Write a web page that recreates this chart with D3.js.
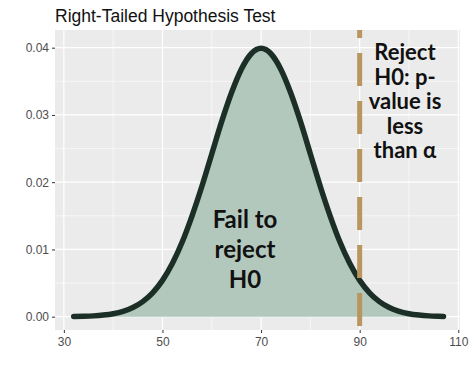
<!DOCTYPE html>
<html><head><meta charset="utf-8">
<script src="https://cdn.jsdelivr.net/npm/d3@7"></script>
<style>body{margin:0;background:#fff}svg{display:block}</style>
</head><body>
<script>
const xs = [32,34,36,38,40,42,44,46,48,50,52,54,56,58,60,62,64,66,68,70,72,74,76,78,80,82,84,86,88,90,92,94,96,98,100,102,104,106,107];
const dens = [0.00003,0.00006,0.00012,0.00024,0.00044,0.00079,0.00136,0.00224,0.00355,0.0054,0.0079,0.0111,0.0150,0.0194,0.0242,0.0290,0.0333,0.0368,0.0391,0.0399,0.0391,0.0368,0.0333,0.0290,0.0242,0.0194,0.0150,0.0111,0.0079,0.0054,0.00355,0.00224,0.00136,0.00079,0.00044,0.00024,0.00012,0.00006,0.00004];
const xTicks = [30,50,70,90,110];
const yTicks = [0,0.01,0.02,0.03,0.04];
const critical = 90;
const title = "Right-Tailed Hypothesis Test";
const leftLabel = ["Fail to","reject","H0"];
const rightLabel = ["Reject","H0: p-","value is","less","than α"];

const W=474,H=374, L=55, R=460, T=30, B=330;
const svg = d3.select("body").append("svg").attr("width",W).attr("height",H);
const x = d3.scaleLinear().domain([28.2,110.35]).range([L,R]);
const y = d3.scaleLinear().domain([-0.00198,0.04263]).range([B,T]);

svg.append("rect").attr("x",L).attr("y",T).attr("width",R-L).attr("height",B-T).attr("fill","#EBEBEB");
const g = svg.append("g");
[40,60,80,100].forEach(v=>g.append("line").attr("x1",x(v)).attr("x2",x(v)).attr("y1",T).attr("y2",B).attr("stroke","#fff").attr("stroke-width",0.6));
[0.005,0.015,0.025,0.035].forEach(v=>g.append("line").attr("x1",L).attr("x2",R).attr("y1",y(v)).attr("y2",y(v)).attr("stroke","#fff").attr("stroke-width",0.6));
xTicks.forEach(v=>g.append("line").attr("x1",x(v)).attr("x2",x(v)).attr("y1",T).attr("y2",B).attr("stroke","#fff").attr("stroke-width",1.2));
yTicks.forEach(v=>g.append("line").attr("x1",L).attr("x2",R).attr("y1",y(v)).attr("y2",y(v)).attr("stroke","#fff").attr("stroke-width",1.2));

const data = xs.map((d,i)=>[d,dens[i]]);
const area = d3.area().x(d=>x(d[0])).y0(y(0)).y1(d=>y(d[1])).curve(d3.curveMonotoneX);
const line = d3.line().x(d=>x(d[0])).y(d=>y(d[1])).curve(d3.curveMonotoneX);
svg.append("path").datum(data).attr("d",area).attr("fill","#b3c8bd");
svg.append("path").datum(data).attr("d",line).attr("fill","none").attr("stroke","#1b2f27").attr("stroke-width",5.5).attr("stroke-linecap","round").attr("stroke-linejoin","round");

svg.append("line").attr("x1",x(critical)).attr("x2",x(critical)).attr("y1",T).attr("y2",B)
  .attr("stroke","#b8965e").attr("stroke-width",5).attr("stroke-dasharray","33 15").attr("stroke-dashoffset",25);

const xa = svg.append("g").attr("transform",`translate(0,${B})`).call(d3.axisBottom(x).tickValues(xTicks).tickSize(3).tickPadding(4).tickFormat(d3.format("d")));
const ya = svg.append("g").attr("transform",`translate(${L},0)`).call(d3.axisLeft(y).tickValues(yTicks).tickSize(3).tickPadding(3).tickFormat(d3.format(".2f")));
[xa,ya].forEach(a=>{a.select(".domain").remove();
  a.selectAll(".tick line").attr("stroke","#333");
  a.selectAll("text").attr("fill","#4d4d4d").style("font-family","Liberation Sans, Arial, sans-serif").style("font-size","12px");});

svg.append("text").attr("x",L).attr("y",22).text(title).attr("fill","#111")
  .style("font-family","Liberation Sans, Arial, sans-serif").style("font-size","17.5px");

const tf = "Lato, 'Open Sans', sans-serif";
leftLabel.forEach((t,i)=>svg.append("text").attr("x",245).attr("y",228+i*30).attr("text-anchor","middle").text(t)
  .style("font-family",tf).style("font-weight","bold").style("font-size","24px").attr("fill","#111"));
rightLabel.forEach((t,i)=>svg.append("text").attr("x",405).attr("y",60+i*24.5).attr("text-anchor","middle").text(t)
  .style("font-family",tf).style("font-weight","bold").style("font-size","22px").attr("fill","#111"));
</script>
</body></html>
